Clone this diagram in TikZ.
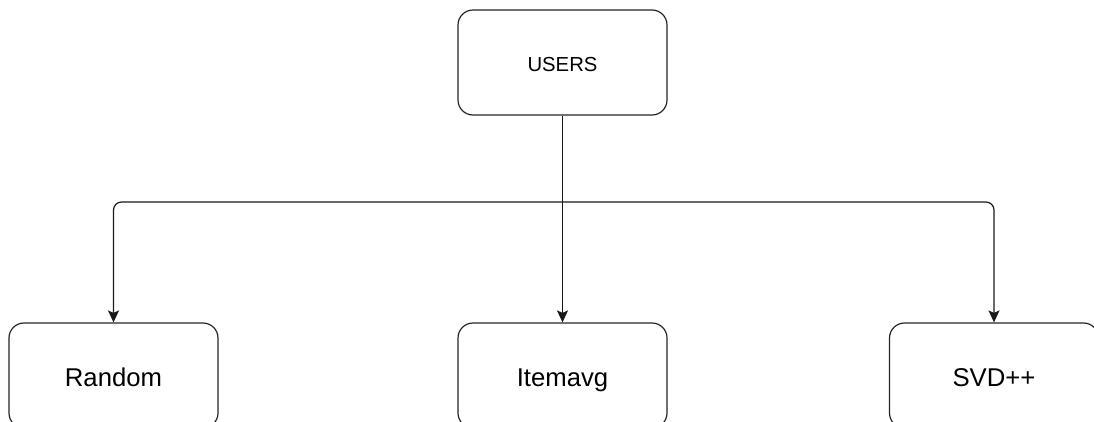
\documentclass[tikz,border=0pt]{standalone}
\usepackage{fontspec}
\setmainfont{Liberation Sans}
\usetikzlibrary{arrows.meta}
\begin{document}
\begin{tikzpicture}[x=1pt,y=-1pt,
  box/.style={draw=black!85, line width=1.2pt, rounded corners=15pt, minimum width=209pt, minimum height=105pt, inner sep=0pt, fill=white, text depth=0pt},
  big/.style={font=\fontsize{25.7}{30}\selectfont, text height=22.7pt},
  small/.style={font=\fontsize{20.3}{24}\selectfont, text height=17.8pt},
  conn/.style={draw=black!90, line width=1.2pt},
  tip/.style={-{Stealth[length=12pt,width=11pt,inset=2.5pt]}}]
\useasboundingbox (0,0) rectangle (1094,421);
\clip (0,0) rectangle (1094,421);
\fill[white] (0,0) rectangle (1094,421);
\node[box, small] (users) at (562.5,62.5) {USERS};
\node[box, big] (random) at (113.5,375.5) {Random};
\node[box, big] (itemavg) at (562.5,375.5) {Itemavg};
\node[box, big] (svd) at (994,375.5) {SVD++};
\coordinate (j) at (562.5,202);
\draw[conn, tip] (users.south) -- (itemavg.north);
\draw[conn, tip, rounded corners=8pt] (j) -| (random.north);
\draw[conn, tip, rounded corners=8pt] (j) -| (svd.north);
\end{tikzpicture}
\end{document}
